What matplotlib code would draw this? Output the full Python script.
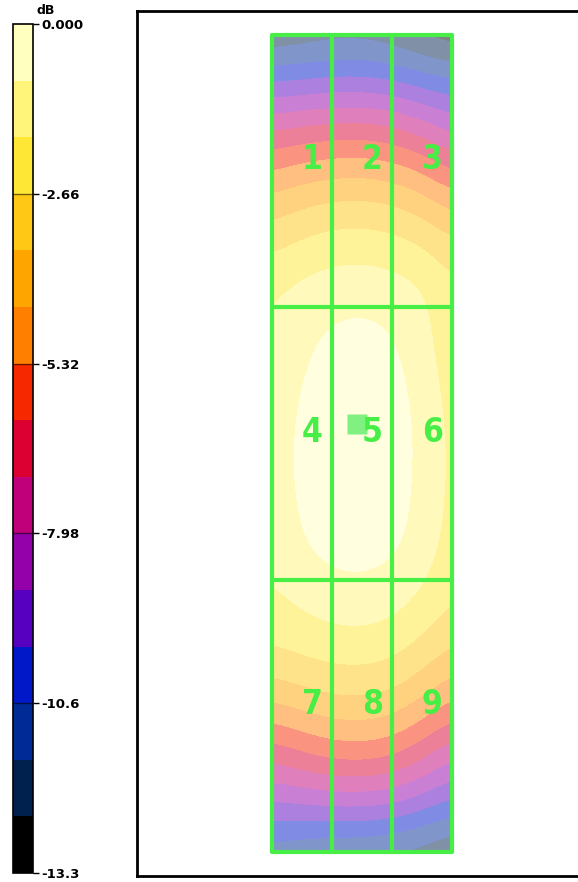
import numpy as np
import matplotlib
matplotlib.use('Agg')
import matplotlib.pyplot as plt
from matplotlib.colors import ListedColormap, BoundaryNorm
from matplotlib.patches import Rectangle
from matplotlib.cm import ScalarMappable

# Dimensions de la salle (m)
room_w = 3.0
room_l = 13.6

# Points de mesure (m)
x_pts = [0.0, 0.5, 1.0, 1.5, 2.0, 2.5, 3.0]
y_pts = [0.0, 0.85, 1.7, 2.55, 3.4, 4.25, 5.1, 5.95, 6.8, 7.65,
         8.5, 9.35, 10.2, 11.05, 11.9, 12.75, 13.6]

# Niveau relatif mesuré (dB), une ligne par y_pts
spl_db = [
    [-12.5, -12.3, -12.1, -12.1, -12.3, -12.8, -13.2],
    [-9.5, -9.4, -9.25, -9.22, -9.41, -9.84, -10.2],
    [-6.75, -6.44, -6.26, -6.21, -6.45, -7.01, -7.86],
    [-4.6, -4.18, -3.94, -3.88, -4.07, -4.52, -5.4],
    [-3.0, -2.56, -2.3, -2.24, -2.39, -2.75, -3.4],
    [-1.8, -1.48, -1.27, -1.22, -1.33, -1.59, -2.4],
    [-1.75, -1.1, -0.65, -0.5, -0.75, -1.5, -2.3],
    [-1.45, -0.8, -0.35, -0.2, -0.45, -1.2, -2.15],
    [-1.3, -0.7, -0.2, -0.05, -0.38, -1.05, -2.05],
    [-1.3, -0.75, -0.25, -0.15, -0.45, -1.1, -2.05],
    [-1.45, -0.9, -0.55, -0.5, -0.65, -1.2, -2.2],
    [-1.9, -1.53, -1.23, -1.16, -1.33, -1.86, -2.55],
    [-2.6, -2.38, -2.2, -2.15, -2.32, -2.85, -3.55],
    [-4.21, -3.86, -3.57, -3.5, -3.71, -4.37, -5.23],
    [-6.61, -6.07, -5.64, -5.53, -5.78, -6.56, -7.58],
    [-8.78, -8.59, -8.44, -8.4, -8.57, -9.12, -9.84],
    [-11.3, -11.6, -11.75, -11.8, -11.95, -12.2, -12.6],
]

# Position de la source (m)
source_x = 1.42
source_y = 6.48

zone_labels = ['1', '2', '3', '4', '5', '6', '7', '8', '9']

db_min = -13.3
db_max = 0.0
tick_values = [0.0, -2.66, -5.32, -7.98, -10.64, -13.3]
tick_labels = ['0.000', '-2.66', '-5.32', '-7.98', '-10.6', '-13.3']

# Palette par bandes, du plus faible au plus fort
band_colors = ['#000000', '#00204e', '#002a96', '#0018c8', '#5800c0',
               '#9400aa', '#c0007a', '#dc0032', '#f52800', '#ff7f00',
               '#ffa500', '#ffc814', '#ffe835', '#fff57a', '#ffffc0']

green = '#46ee46'

cmap = ListedColormap(band_colors)
levels = np.linspace(db_min, db_max, len(band_colors) + 1)
norm = BoundaryNorm(levels, cmap.N)

W, H = 578, 882
fig = plt.figure(figsize=(W / 100, H / 100), dpi=100)

# Carte principale
ax = fig.add_axes([137 / W, 6 / H, (600 - 137) / W, 865 / H])
ax.set_xlim(-2.25, 5.467)
ax.set_ylim(14.0, -0.4)
ax.set_xticks([])
ax.set_yticks([])
for s in ax.spines.values():
    s.set_linewidth(2)
    s.set_color('black')

dx = x_pts[1] - x_pts[0]
dy = y_pts[1] - y_pts[0]
im = ax.imshow(np.array(spl_db), cmap=cmap, norm=norm, alpha=0.5,
               interpolation='bicubic', interpolation_stage='data',
               extent=[x_pts[0] - dx / 2, x_pts[-1] + dx / 2,
                       y_pts[-1] + dy / 2, y_pts[0] - dy / 2],
               aspect='auto')
clip = Rectangle((0, 0), room_w, room_l, transform=ax.transData)
im.set_clip_path(clip)

# Grille des zones
for k in (1, 2):
    ax.plot([room_w * k / 3] * 2, [0, room_l], color=green, lw=3,
            solid_capstyle='round')
    ax.plot([0, room_w], [room_l * k / 3] * 2, color=green, lw=3,
            solid_capstyle='round')
ax.add_patch(Rectangle((0, 0), room_w, room_l, fill=False, ec=green,
                       lw=3, joinstyle='round'))

for i, lab in enumerate(zone_labels):
    r, c = divmod(i, 3)
    cx = room_w * c / 3 + 0.67
    cy = room_l * (r + 0.5) / 3 - 0.19
    ax.text(cx, cy, lab, color=green, fontsize=24, fontweight='bold',
            family='DejaVu Sans', fontstretch='condensed',
            ha='center', va='center')

ax.plot(source_x, source_y, marker='s', ms=14, color='#80f080', mec='none')

# Barre de couleurs
cax = fig.add_axes([13 / W, 9 / H, 20 / W, 849 / H])
sm = ScalarMappable(norm=norm, cmap=cmap)
cb = fig.colorbar(sm, cax=cax, ticks=tick_values)
cb.minorticks_off()
cb.ax.set_yticklabels(tick_labels, fontsize=9.5, fontweight='bold')
cb.ax.tick_params(length=4, width=1, pad=2, color='black')
cb.outline.set_linewidth(1.2)
for v in tick_values[1:-1]:
    cax.axhline(v, color='black', lw=1, alpha=0.55)
fig.text(46 / W, 1 - 10 / H, 'dB', fontsize=9, fontweight='bold',
         ha='center', va='center')

fig.savefig('out.png', dpi=100)
